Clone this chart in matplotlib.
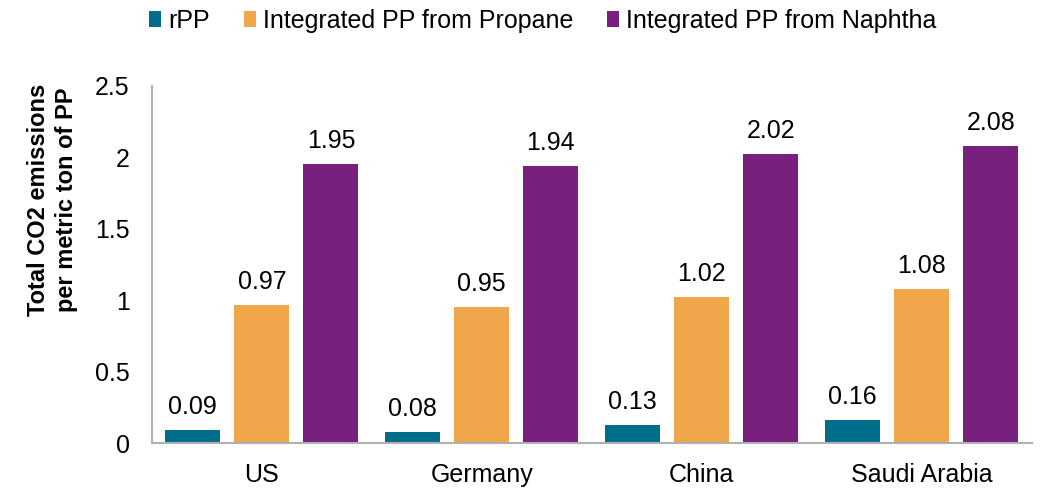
import matplotlib
matplotlib.use("Agg")
import matplotlib.pyplot as plt
import numpy as np

plt.rcParams['font.family'] = ['Liberation Sans', 'DejaVu Sans']

categories = ["US", "Germany", "China", "Saudi Arabia"]
series_names = ["rPP", "Integrated PP from Propane", "Integrated PP from Naphtha"]
rpp = [0.09, 0.08, 0.13, 0.16]
propane = [0.97, 0.95, 1.02, 1.08]
naphtha = [1.95, 1.94, 2.02, 2.08]
colors = ["#006E8A", "#F0A64B", "#77207D"]

fig = plt.figure(figsize=(10.4, 4.88), dpi=100)
ax = fig.add_axes([0.146, 0.092, 0.846, 0.732])

x = np.arange(len(categories))
width = 0.25
step = 0.314
for i, (vals, name, c) in enumerate(zip([rpp, propane, naphtha], series_names, colors)):
    pos = x + (i - 1) * step
    ax.bar(pos, vals, width=width, color=c, label=name)
    for p, v in zip(pos, vals):
        ax.text(p, v + 0.112, f"{v:.2f}", ha='center', va='baseline', fontsize=18)

ax.set_xlim(-0.5, len(categories) - 0.5)
ax.set_ylim(0, 2.5)
ax.set_yticks([0, 0.5, 1, 1.5, 2, 2.5])
ax.set_yticklabels(["0", "0.5", "1", "1.5", "2", "2.5"], fontsize=18)
ax.set_xticks(x)
ax.set_xticklabels(categories, fontsize=18)
ax.tick_params(axis='x', length=0, pad=14)
ax.tick_params(axis='y', length=0, pad=16)
for s in ['top', 'right']:
    ax.spines[s].set_visible(False)
for s in ['left', 'bottom']:
    ax.spines[s].set_color('#B0B0B0')
    ax.spines[s].set_linewidth(1.5)
ax.set_ylabel("Total CO2 emissions\nper metric ton of PP", fontsize=17, fontweight='bold',
              linespacing=1.3)
ax.yaxis.set_label_coords(-0.084, 0.68)

leg = fig.legend(loc='upper left', bbox_to_anchor=(0.1433, 0.982), ncol=3, frameon=False,
                 fontsize=18, handlelength=0.48, handleheight=0.56, handletextpad=0.28,
                 columnspacing=1.36, borderpad=0, borderaxespad=0)

fig.savefig("out.png", dpi=100)
